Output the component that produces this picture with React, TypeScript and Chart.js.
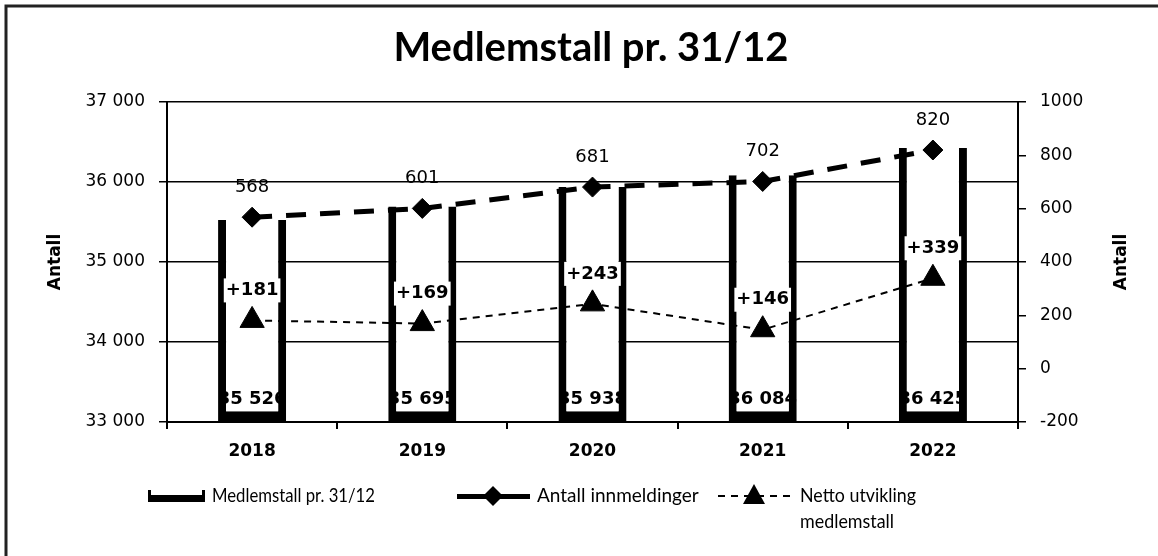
import React, { useEffect, useRef } from "react";
import { Chart, registerables } from "chart.js";

Chart.register(...registerables);

const categories = ["2018", "2019", "2020", "2021", "2022"];
const medlemstall = [35526, 35695, 35938, 36084, 36425];
const innmeldinger = [568, 601, 681, 702, 820];
const netto = [181, 169, 243, 146, 339];
const leftTicks = [33000, 34000, 35000, 36000, 37000];
const rightTicks = [-200, 0, 200, 400, 600, 800, 1000];

const TITLE = "Medlemstall pr. 31/12";
const AXIS_TITLE = "Antall";
const LEGEND_BAR = "Medlemstall pr. 31/12";
const LEGEND_DIAMOND = "Antall innmeldinger";
const LEGEND_TRI = ["Netto utvikling", "medlemstall"];

const fmtThousands = (v: number) => {
  const s = String(Math.abs(v));
  const out = s.length > 3 ? s.slice(0, s.length - 3) + " " + s.slice(s.length - 3) : s;
  return (v < 0 ? "-" : "") + out;
};

const VERDANA = "'DejaVu Sans', Verdana, sans-serif";
const CALIBRI = "Lato, 'Open Sans', sans-serif";

const decorPlugin = {
  id: "decor",
  afterDatasetsDraw(chart: any) {
    const ctx = chart.ctx;
    ctx.save();
    // bar labels (clipped to bar)
    const barMeta = chart.getDatasetMeta(0);
    barMeta.data.forEach((bar: any, i: number) => {
      const { x, y, base, width } = bar.getProps(["x", "y", "base", "width"], true);
      ctx.save();
      ctx.beginPath();
      ctx.rect(x - width / 2, y, width, base - y);
      ctx.clip();
      ctx.font = `bold 18px ${VERDANA}`;
      ctx.fillStyle = "#000";
      ctx.textAlign = "center";
      ctx.textBaseline = "middle";
      ctx.fillText(fmtThousands(medlemstall[i]), x, base - 22);
      ctx.restore();
    });
    // diamond labels
    const dMeta = chart.getDatasetMeta(1);
    dMeta.data.forEach((pt: any, i: number) => {
      ctx.font = `18px ${VERDANA}`;
      ctx.fillStyle = "#000";
      ctx.textAlign = "center";
      ctx.textBaseline = "middle";
      ctx.fillText(String(innmeldinger[i]), pt.x, pt.y - 30);
    });
    // triangle labels
    const tMeta = chart.getDatasetMeta(2);
    tMeta.data.forEach((pt: any, i: number) => {
      const txt = "+" + netto[i];
      ctx.font = `bold 18px ${VERDANA}`;
      const w = ctx.measureText(txt).width;
      ctx.fillStyle = "#fff";
      ctx.fillRect(pt.x - w / 2 - 2, pt.y - 30 - 12, w + 4, 24);
      ctx.fillStyle = "#000";
      ctx.textAlign = "center";
      ctx.textBaseline = "middle";
      ctx.fillText(txt, pt.x, pt.y - 30);
    });
    ctx.restore();
  },
  afterDraw(chart: any) {
    const ctx = chart.ctx;
    const area = chart.chartArea;
    ctx.save();
    // frame
    ctx.strokeStyle = "#222";
    ctx.lineWidth = 3;
    ctx.beginPath();
    ctx.moveTo(6, 556);
    ctx.lineTo(6, 6);
    ctx.lineTo(1158, 6);
    ctx.stroke();
    // title
    ctx.fillStyle = "#000";
    ctx.font = `bold 40px ${CALIBRI}`;
    ctx.textAlign = "center";
    ctx.textBaseline = "middle";
    ctx.fillText(TITLE, 591, 48, 398);

    // right axis title (reads bottom to top)
    ctx.save();
    ctx.translate(1122, (area.top + area.bottom) / 2);
    ctx.rotate(-Math.PI / 2);
    ctx.font = `bold 17px ${VERDANA}`;
    ctx.textAlign = "center";
    ctx.textBaseline = "middle";
    ctx.fillText(AXIS_TITLE, 0, 0);
    ctx.restore();

    // legend
    const ly = 496;
    ctx.font = `19px ${CALIBRI}`;
    ctx.textAlign = "left";
    ctx.textBaseline = "middle";
    // bar symbol
    ctx.fillStyle = "#000";
    ctx.fillRect(148, ly - 1, 57, 7);
    ctx.fillRect(148, ly - 6, 3, 7);
    ctx.fillRect(202, ly - 6, 3, 7);
    ctx.fillText(LEGEND_BAR, 212, ly, 163);
    // diamond line symbol
    ctx.fillRect(457, ly - 2, 73, 5);
    ctx.beginPath();
    ctx.moveTo(493, ly - 10);
    ctx.lineTo(503, ly);
    ctx.lineTo(493, ly + 10);
    ctx.lineTo(483, ly);
    ctx.closePath();
    ctx.fill();
    ctx.fillText(LEGEND_DIAMOND, 537, ly, 163);
    // triangle line symbol
    ctx.strokeStyle = "#000";
    ctx.lineWidth = 2;
    ctx.setLineDash([7, 6]);
    ctx.beginPath();
    ctx.moveTo(718, ly);
    ctx.lineTo(790, ly);
    ctx.stroke();
    ctx.setLineDash([]);
    ctx.beginPath();
    ctx.moveTo(754, ly - 12);
    ctx.lineTo(765, ly + 8);
    ctx.lineTo(743, ly + 8);
    ctx.closePath();
    ctx.fill();
    ctx.fillText(LEGEND_TRI[0], 800, ly, 116);
    ctx.fillText(LEGEND_TRI[1], 800, ly + 26, 94);
    ctx.restore();
  },
};

export default function App() {
  const ref = useRef<HTMLCanvasElement>(null);
  useEffect(() => {
    document.body.style.margin = "0";
    const c = ref.current!;
    const chart = new Chart(c, {
      type: "bar",
      data: {
        labels: categories,
        datasets: [
          {
            type: "bar",
            label: LEGEND_BAR,
            data: medlemstall,
            base: leftTicks[0],
            yAxisID: "y",
            backgroundColor: "#fff",
            borderColor: "#000",
            borderWidth: { left: 8, right: 8, bottom: 10, top: 0 },
            borderSkipped: false,
            barPercentage: 0.4,
            categoryPercentage: 1,
            order: 3,
          } as any,
          {
            type: "line",
            label: LEGEND_DIAMOND,
            data: innmeldinger,
            yAxisID: "y1",
            borderColor: "#000",
            borderWidth: 5,
            borderDash: [20, 14],
            pointStyle: "rectRot",
            pointRadius: 10,
            pointBackgroundColor: "#000",
            pointBorderColor: "#000",
            pointBorderWidth: 1,
            fill: false,
            order: 2,
          } as any,
          {
            type: "line",
            label: LEGEND_TRI.join(" "),
            data: netto,
            yAxisID: "y1",
            borderColor: "#000",
            borderWidth: 2,
            borderDash: [7, 6],
            pointStyle: "triangle",
            pointRadius: 14,
            pointBackgroundColor: "#000",
            pointBorderColor: "#000",
            pointBorderWidth: 1,
            fill: false,
            order: 1,
          } as any,
        ],
      },
      options: {
        animation: false,
        responsive: false,
        events: [],
        layout: { padding: { left: 41, right: 19, top: 102, bottom: 74 } },
        plugins: {
          legend: { display: false },
          title: { display: false },
          tooltip: { enabled: false },
        },
        scales: {
          x: {
            type: "category",
            offset: true,
            grid: {
              offset: true,
              drawOnChartArea: false,
              color: "#000",
              lineWidth: 2,
              tickLength: 7,
            },
            border: { color: "#000", width: 2 },
            ticks: {
              color: "#000",
              font: { family: VERDANA, size: 17, weight: "bold" },
              padding: 12,
            },
            afterFit: (s: any) => {
              s.height = 60;
            },
          },
          y: {
            position: "left",
            min: 33000,
            max: 37000,
            afterBuildTicks: (s: any) => {
              s.ticks = leftTicks.map((v) => ({ value: v }));
            },
            grid: { color: "#000", lineWidth: 1.5, tickLength: 8 },
            border: { color: "#000", width: 2 },
            ticks: {
              color: "#000",
              font: { family: VERDANA, size: 17 },
              padding: 14,
              callback: (v: any) => fmtThousands(Number(v)),
            },
            title: {
              display: true,
              text: AXIS_TITLE,
              color: "#000",
              font: { family: VERDANA, size: 17, weight: "bold" },
            },
            afterFit: (s: any) => {
              s.width = 126;
            },
          },
          y1: {
            position: "right",
            min: -200,
            max: 1000,
            afterBuildTicks: (s: any) => {
              s.ticks = rightTicks.map((v) => ({ value: v }));
            },
            grid: { drawOnChartArea: false, color: "#000", lineWidth: 1.5, tickLength: 8 },
            border: { color: "#000", width: 2 },
            ticks: {
              color: "#000",
              font: { family: VERDANA, size: 17 },
              padding: 14,
              callback: (v: any) => String(v),
            },
            afterFit: (s: any) => {
              s.width = 121;
            },
          },
        },
      },
      plugins: [decorPlugin],
    });
    return () => chart.destroy();
  }, []);
  return (
    <div style={{ width: 1158, height: 556, background: "#fff" }}>
      <canvas ref={ref} width={1158} height={556} style={{ display: "block" }} />
    </div>
  );
}
